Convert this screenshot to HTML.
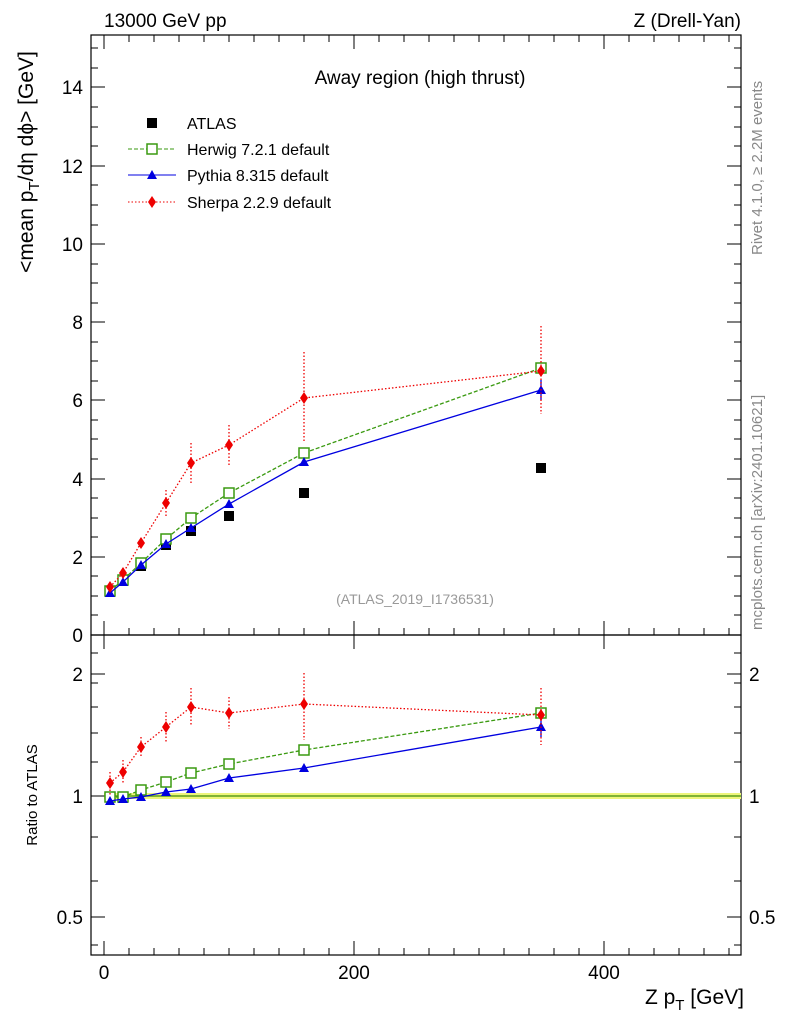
<!DOCTYPE html>
<html><head><meta charset="utf-8"><style>body{margin:0;background:#fff}svg{display:block}text{font-family:"Liberation Sans",sans-serif}</style></head><body>
<svg width="786" height="1024" viewBox="0 0 786 1024" xmlns="http://www.w3.org/2000/svg">
<g fill="none" stroke="#000" stroke-width="1.2">
<rect x="91" y="35" width="650" height="600"/>
<rect x="91" y="635" width="650" height="320"/>
</g>
<g stroke="#000" stroke-width="1">
<path d="M91 635h14M91 557h14M91 479h14M91 400h14M91 322h14M91 244h14M91 166h14M91 87h14
M741 635h-14M741 557h-14M741 479h-14M741 400h-14M741 322h-14M741 244h-14M741 166h-14M741 87h-14
M91 615h7M91 596h7M91 576h7M91 537h7M91 518h7M91 498h7M91 459h7M91 439h7M91 420h7M91 381h7M91 361h7M91 342h7M91 303h7M91 283h7M91 264h7M91 225h7M91 205h7M91 185h7M91 146h7M91 127h7M91 107h7M91 68h7M91 48h7
M741 615h-7M741 596h-7M741 576h-7M741 537h-7M741 518h-7M741 498h-7M741 459h-7M741 439h-7M741 420h-7M741 381h-7M741 361h-7M741 342h-7M741 303h-7M741 283h-7M741 264h-7M741 225h-7M741 205h-7M741 185h-7M741 146h-7M741 127h-7M741 107h-7M741 68h-7M741 48h-7"/>
<path d="M104 635v-14M354 635v-14M604 635v-14M104 35v14M354 35v14M604 35v14
M104 955v-14M354 955v-14M604 955v-14M104 635v14M354 635v14M604 635v14"/>
<path d="M129 635v-7M154 635v-7M179 635v-7M204 635v-7M229 635v-7M254 635v-7M279 635v-7M304 635v-7M329 635v-7M379 635v-7M404 635v-7M429 635v-7M454 635v-7M479 635v-7M504 635v-7M529 635v-7M554 635v-7M579 635v-7M629 635v-7M654 635v-7M679 635v-7M704 635v-7M729 635v-7
M129 955v-7M154 955v-7M179 955v-7M204 955v-7M229 955v-7M254 955v-7M279 955v-7M304 955v-7M329 955v-7M379 955v-7M404 955v-7M429 955v-7M454 955v-7M479 955v-7M504 955v-7M529 955v-7M554 955v-7M579 955v-7M629 955v-7M654 955v-7M679 955v-7M704 955v-7M729 955v-7
M129 35v7M154 35v7M179 35v7M204 35v7M229 35v7M254 35v7M279 35v7M304 35v7M329 35v7M379 35v7M404 35v7M429 35v7M454 35v7M479 35v7M504 35v7M529 35v7M554 35v7M579 35v7M629 35v7M654 35v7M679 35v7M704 35v7M729 35v7"/>
<path d="M91 674h14M91 796h14M91 917h14M741 674h-14M741 796h-14M741 917h-14
M91 762h7M91 733h7M91 707h7M91 683h7M91 653h7M91 837h7M91 881h7M91 945h7
M741 762h-7M741 733h-7M741 707h-7M741 683h-7M741 653h-7M741 837h-7M741 881h-7M741 945h-7"/>
</g>
<rect x="104" y="793" width="637" height="6" fill="#eef57a"/>
<line x1="104" y1="796" x2="741" y2="796" stroke="#5a9b1e" stroke-width="1.5"/>
<g font-size="19">
<text x="83" y="642" text-anchor="end">0</text>
<text x="83" y="564" text-anchor="end">2</text>
<text x="83" y="486" text-anchor="end">4</text>
<text x="83" y="407" text-anchor="end">6</text>
<text x="83" y="329" text-anchor="end">8</text>
<text x="83" y="251" text-anchor="end">10</text>
<text x="83" y="173" text-anchor="end">12</text>
<text x="83" y="94" text-anchor="end">14</text>
<text x="83" y="681" text-anchor="end">2</text>
<text x="83" y="803" text-anchor="end">1</text>
<text x="83" y="924" text-anchor="end">0.5</text>
<text x="749" y="681">2</text>
<text x="749" y="803">1</text>
<text x="749" y="924">0.5</text>
<text x="104" y="979" text-anchor="middle">0</text>
<text x="354" y="979" text-anchor="middle">200</text>
<text x="604" y="979" text-anchor="middle">400</text>
<text x="104" y="27">13000 GeV pp</text>
<text x="741" y="27" text-anchor="end">Z (Drell-Yan)</text>
<text x="420" y="84" text-anchor="middle">Away region (high thrust)</text>
</g>
<g font-size="21">
<text x="744" y="1004" text-anchor="end">Z p<tspan font-size="15" dy="6">T</tspan><tspan dy="-6"> [GeV]</tspan></text>
<text transform="translate(33,162) rotate(-90)" style="text-anchor:middle">&lt;mean p<tspan font-size="15" dy="6">T</tspan><tspan dy="-6">/dη dϕ&gt; [GeV]</tspan></text>
</g>
<text transform="translate(37,795) rotate(-90)" font-size="15" text-anchor="middle">Ratio to ATLAS</text>
<text x="415" y="604" font-size="14" fill="#999" text-anchor="middle">(ATLAS_2019_I1736531)</text>
<text transform="translate(762,255) rotate(-90)" font-size="15" fill="#888">Rivet 4.1.0, ≥ 2.2M events</text>
<text transform="translate(762,630) rotate(-90)" font-size="15" fill="#888">mcplots.cern.ch [arXiv:2401.10621]</text>
<g font-size="16">
<rect x="147" y="118" width="10" height="10" fill="#000"/>
<text x="187" y="129">ATLAS</text>
<line x1="128" y1="149" x2="176" y2="149" stroke="#3a9a10" stroke-dasharray="4,2"/>
<rect x="147" y="144" width="10" height="10" fill="#fff" stroke="#3a9a10" stroke-width="1.5"/>
<text x="187" y="155">Herwig 7.2.1 default</text>
<line x1="128" y1="175" x2="176" y2="175" stroke="#0000e0"/>
<path d="M152 170l5 9h-10z" fill="#0000e0"/>
<text x="187" y="181">Pythia 8.315 default</text>
<line x1="128" y1="202" x2="176" y2="202" stroke="#e00" stroke-dasharray="1.5,2"/>
<path d="M152 196l4 6-4 6-4-6z" fill="#e00"/>
<text x="187" y="208">Sherpa 2.2.9 default</text>
</g>
<g fill="#000">
<rect x="105" y="587" width="10" height="10"/><rect x="118" y="576" width="10" height="10"/><rect x="136" y="561" width="10" height="10"/><rect x="161" y="540" width="10" height="10"/><rect x="186" y="526" width="10" height="10"/><rect x="224" y="511" width="10" height="10"/><rect x="299" y="488" width="10" height="10"/><rect x="536" y="463" width="10" height="10"/>
</g>
<g stroke="#3a9a10" fill="none" stroke-width="1.3">
<polyline stroke-dasharray="4,2" points="110,591 123,580 141,563 166,539 191,518 229,493 304,453 541,368"/>
<polyline stroke-dasharray="4,2" points="110,797 123,797 141,790 166,782 191,773 229,764 304,750 541,713"/>
<g fill="#fff" stroke-width="1.5">
<rect x="105" y="586" width="10" height="10"/><rect x="118" y="575" width="10" height="10"/><rect x="136" y="558" width="10" height="10"/><rect x="161" y="534" width="10" height="10"/><rect x="186" y="513" width="10" height="10"/><rect x="224" y="488" width="10" height="10"/><rect x="299" y="448" width="10" height="10"/><rect x="536" y="363" width="10" height="10"/>
<rect x="105" y="792" width="10" height="10"/><rect x="118" y="792" width="10" height="10"/><rect x="136" y="785" width="10" height="10"/><rect x="161" y="777" width="10" height="10"/><rect x="186" y="768" width="10" height="10"/><rect x="224" y="759" width="10" height="10"/><rect x="299" y="745" width="10" height="10"/><rect x="536" y="708" width="10" height="10"/>
</g></g>
<g stroke="#0000e0" fill="none" stroke-width="1.3">
<polyline points="110,593 123,582 141,565 166,544 191,528 229,504 304,462 541,390"/>
<polyline points="110,801 123,799 141,797 166,792 191,789 229,778 304,768 541,727"/>
<path d="M541 380v20M541 717v20"/>
</g>
<g fill="#0000e0">
<path d="M110 588l5 9h-10zM123 577l5 9h-10zM141 560l5 9h-10zM166 539l5 9h-10zM191 523l5 9h-10zM229 499l5 9h-10zM304 457l5 9h-10zM541 385l5 9h-10z"/>
<path d="M110 796l5 9h-10zM123 794l5 9h-10zM141 792l5 9h-10zM166 787l5 9h-10zM191 784l5 9h-10zM229 773l5 9h-10zM304 763l5 9h-10zM541 722l5 9h-10z"/>
</g>
<g stroke="#e00" fill="none" stroke-width="1.3" stroke-dasharray="1.5,2">
<polyline points="110,587 123,573 141,543 166,503 191,463 229,445 304,398 541,371"/>
<polyline points="110,783 123,772 141,747 166,727 191,707 229,713 304,704 541,715"/>
<path d="M166 490v28M191 443v40M229 425v40M304 352v90M541 326v88M123 568v10M141 538v10
M110 772v23M123 760v24M141 737v20M166 712v31M191 688v37M229 697v32M304 673v67M541 688v57"/>
</g>
<g fill="#e00">
<path d="M110 581l4 6-4 6-4-6zM123 567l4 6-4 6-4-6zM141 537l4 6-4 6-4-6zM166 497l4 6-4 6-4-6zM191 457l4 6-4 6-4-6zM229 439l4 6-4 6-4-6zM304 392l4 6-4 6-4-6zM541 365l4 6-4 6-4-6z"/>
<path d="M110 777l4 6-4 6-4-6zM123 766l4 6-4 6-4-6zM141 741l4 6-4 6-4-6zM166 721l4 6-4 6-4-6zM191 701l4 6-4 6-4-6zM229 707l4 6-4 6-4-6zM304 698l4 6-4 6-4-6zM541 709l4 6-4 6-4-6z"/>
</g>
</svg>
</body></html>
